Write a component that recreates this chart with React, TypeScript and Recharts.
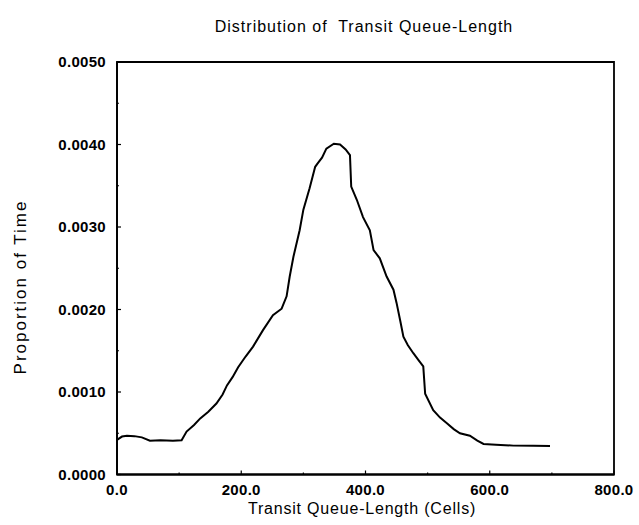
import { Line, LineChart, ReferenceArea, XAxis, YAxis } from "recharts";

// Transit queue length (cells)
const queueLength = [
  0, 8, 16, 28, 40, 53, 70, 90, 104, 112, 124, 134, 147, 160, 170, 177, 186, 195, 207, 219,
  235, 251, 265, 273, 278, 284, 294, 300, 310, 319, 323, 330, 337, 349, 359, 368, 375, 377,
  386, 396, 407, 413, 423, 434, 445, 450, 456, 461, 468, 477, 485, 493, 496, 509, 520, 531,
  542, 552, 568, 580, 590, 610, 638, 670, 697,
];

// Proportion of time
const proportion = [
  0.00042, 0.00046, 0.00047, 0.000465, 0.00045, 0.00041, 0.000415, 0.00041, 0.000415, 0.00052,
  0.0006, 0.00068, 0.00076, 0.00086, 0.00097, 0.00108, 0.00118, 0.0013, 0.00143, 0.00155,
  0.00175, 0.00193, 0.00201, 0.00216, 0.0024, 0.00264, 0.00296, 0.00321, 0.00347, 0.00373,
  0.00377, 0.00384, 0.00395, 0.00401, 0.004, 0.00394, 0.00387, 0.00349, 0.00333, 0.00312,
  0.00296, 0.00272, 0.00262, 0.0024, 0.00224, 0.00208, 0.00186, 0.00167, 0.00157, 0.00147,
  0.00139, 0.00131, 0.00098, 0.00078, 0.00069, 0.00062, 0.00055, 0.0005, 0.00047, 0.00041,
  0.00037, 0.00036, 0.00035, 0.000348, 0.000345,
];

const xTicks = [0, 100, 200, 300, 400, 500, 600, 700, 800];
const yTicks = [0, 0.0005, 0.001, 0.0015, 0.002, 0.0025, 0.003, 0.0035, 0.004, 0.0045, 0.005];

const data = queueLength.map((q, i) => ({ q, p: proportion[i] }));

const font = "'Liberation Sans', Arial, Helvetica, sans-serif";

function XTick(props: any) {
  const { x, y, payload } = props;
  const major = payload.value % 200 === 0;
  return (
    <g>
      <line x1={x} x2={x} y1={y} y2={y - (major ? 4 : 2)} stroke="#000" strokeWidth={1.2} />
      {major && (
        <text x={x} y={y + 20} textAnchor="middle" fontSize={15} fontWeight="bold" letterSpacing={0.3} fill="#000" fontFamily={font}>
          {payload.value.toFixed(1)}
        </text>
      )}
    </g>
  );
}

function YTick(props: any) {
  const { x, y, payload } = props;
  const major = Math.round(payload.value * 10000) % 10 === 0;
  return (
    <g>
      <line x1={x} x2={x + (major ? 4 : 2)} y1={y} y2={y} stroke="#000" strokeWidth={1.2} />
      {major && (
        <text x={x - 11} y={y + 5} textAnchor="end" fontSize={15} fontWeight="bold" letterSpacing={0.3} fill="#000" fontFamily={font}>
          {payload.value.toFixed(4)}
        </text>
      )}
    </g>
  );
}

export default function App() {
  return (
    <div style={{ position: "absolute", left: 0, top: 0, width: 639, height: 525, background: "#fff" }}>
      <LineChart width={639} height={525} data={data} margin={{ top: 62, right: 25, bottom: 0, left: 0 }}>
        <XAxis
          dataKey="q"
          type="number"
          domain={[0, 800]}
          ticks={xTicks}
          interval={0}
          tickLine={false}
          tickSize={0}
          tickMargin={0}
          tick={<XTick />}
          height={50.5}
          axisLine={{ stroke: "#000", strokeWidth: 1.8 }}
        />
        <YAxis
          type="number"
          domain={[0, 0.005]}
          ticks={yTicks}
          interval={0}
          tickLine={false}
          tickSize={0}
          tickMargin={0}
          tick={<YTick />}
          width={117}
          axisLine={{ stroke: "#000", strokeWidth: 1.8 }}
        />
        <ReferenceArea
          x1={0}
          x2={800}
          y1={0}
          y2={0.005}
          fill="none"
          fillOpacity={0}
          stroke="#000"
          strokeWidth={1.8}
          ifOverflow="visible"
        />
        <Line
          dataKey="p"
          type="linear"
          stroke="#000"
          strokeWidth={2}
          dot={false}
          isAnimationActive={false}
        />
        <text x={364} y={32} textAnchor="middle" fontSize={16} letterSpacing={1} fill="#000" fontFamily={font}>
          {"Distribution of\u00a0 Transit Queue-Length"}
        </text>
        <text x={362} y={514} textAnchor="middle" fontSize={16} letterSpacing={0.8} fill="#000" fontFamily={font}>
          Transit Queue-Length (Cells)
        </text>
        <text
          x={26}
          y={287}
          textAnchor="middle"
          fontSize={17}
          letterSpacing={2}
          fill="#000"
          fontFamily={font}
          transform="rotate(-90 26 287)"
        >
          Proportion of Time
        </text>
      </LineChart>
    </div>
  );
}
